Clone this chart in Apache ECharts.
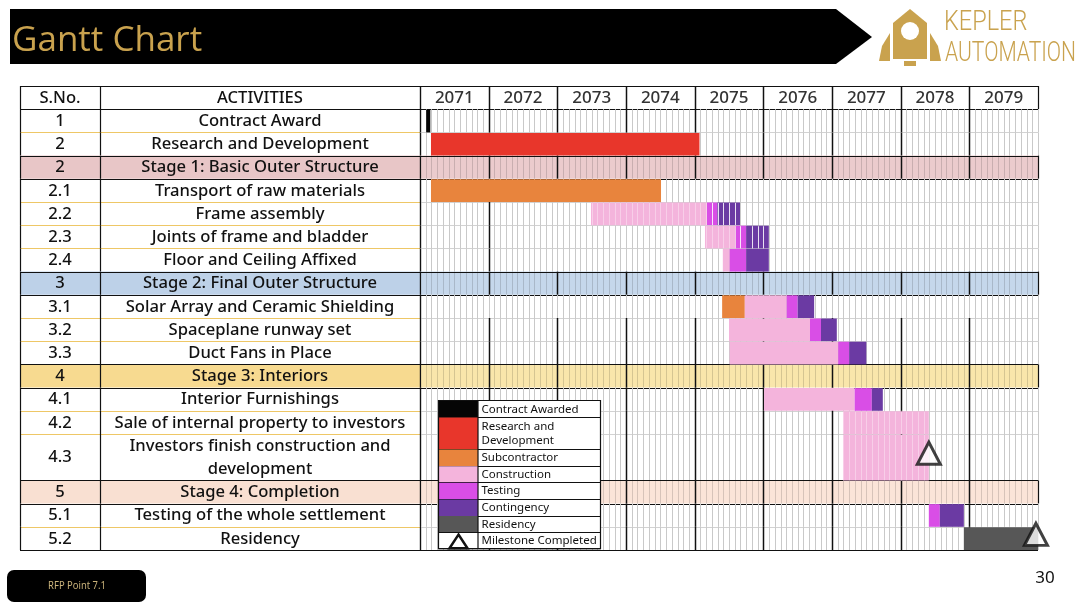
<!DOCTYPE html>
<html><head><meta charset="utf-8"><title>Gantt Chart</title>
<script src="https://cdn.jsdelivr.net/npm/echarts@6.0.0/dist/echarts.min.js"></script>
<style>html,body{margin:0;padding:0;background:#fff;}#chart{width:1080px;height:607px;}</style>
</head><body><div id="chart"></div>
<script>
// ---------------- DATA ----------------
const yearLabels = ['2071','2072','2073','2074','2075','2076','2077','2078','2079'];
const serialNumbers = ['1','2','2','2.1','2.2','2.3','2.4','3','3.1','3.2','3.3','4','4.1','4.2','4.3','5','5.1','5.2'];
const activities = [
  'Contract Award',
  'Research and Development',
  'Stage 1: Basic Outer Structure',
  'Transport of raw materials',
  'Frame assembly',
  'Joints of frame and bladder',
  'Floor and Ceiling Affixed',
  'Stage 2: Final Outer Structure',
  'Solar Array and Ceramic Shielding',
  'Spaceplane runway set',
  'Duct Fans in Place',
  'Stage 3: Interiors',
  'Interior Furnishings',
  'Sale of internal property to investors',
  'Investors finish construction and\ndevelopment',
  'Stage 4: Completion',
  'Testing of the whole settlement',
  'Residency'
];
const phases = ['Contract Awarded','Research and Development','Subcontractor','Construction','Testing','Contingency','Residency'];
const legendLabels = ['Contract Awarded','Research and\nDevelopment','Subcontractor','Construction','Testing','Contingency','Residency','Milestone Completed'];
// [activity row index, phase, start (year), end (year)]
const tasks = [
  [0,'Contract Awarded',2071.09,2071.15],
  [1,'Research and Development',2071.16,2075.07],
  [3,'Subcontractor',2071.16,2074.51],
  [4,'Construction',2073.49,2075.18],
  [4,'Testing',2075.18,2075.33],
  [4,'Contingency',2075.33,2075.66],
  [5,'Construction',2075.15,2075.60],
  [5,'Testing',2075.60,2075.75],
  [5,'Contingency',2075.75,2076.08],
  [6,'Construction',2075.41,2075.51],
  [6,'Testing',2075.51,2075.75],
  [6,'Contingency',2075.75,2076.08],
  [8,'Subcontractor',2075.40,2075.73],
  [8,'Construction',2075.73,2076.34],
  [8,'Testing',2076.34,2076.50],
  [8,'Contingency',2076.50,2076.74],
  [9,'Construction',2075.50,2076.68],
  [9,'Testing',2076.68,2076.84],
  [9,'Contingency',2076.84,2077.07],
  [10,'Construction',2075.51,2077.09],
  [10,'Testing',2077.09,2077.25],
  [10,'Contingency',2077.25,2077.50],
  [12,'Construction',2076.01,2077.33],
  [12,'Testing',2077.33,2077.58],
  [12,'Contingency',2077.58,2077.74],
  [13,'Construction',2077.16,2078.41],
  [14,'Construction',2077.16,2078.41],
  [16,'Testing',2078.41,2078.57],
  [16,'Contingency',2078.57,2078.92],
  [17,'Residency',2078.92,2080.00]
];
// [activity row index, year]
const milestones = [[14,2078.41],[17,2079.97]];
const pageNumber = '30';
const footerTag = 'RFP Point 7.1';
const titleText = 'Gantt Chart';

// ---------------- STYLE / LAYOUT ----------------
const FONT = '"Noto Sans","Open Sans",sans-serif';
const GOLD = '#c9a24e';
const phaseColors = {
  'Contract Awarded':'#050505','Research and Development':'#e8362b','Subcontractor':'#e8843d',
  'Construction':'#f4b4dc','Testing':'#d94ee6','Contingency':'#6b3aa3','Residency':'#575757'
};
const stageFillTable = ['#e8c6c7','#bdd1e8','#f7da90','#f9e0d2'];
const stageFillTimeline = ['#ebcbcd','#c5d7eb','#f9e6ab','#fbe4d8'];
const stripedRows = [4,5,13,14];
const COL_SPLIT = 80, COL_MAX = 400;

const yearMin = +yearLabels[0], yearMax = +yearLabels[yearLabels.length-1] + 1;
const nYears = yearLabels.length;
const spans = activities.map(a => a.split('\n').length);
const rowStart = []; let acc = 1; spans.forEach(s => { rowStart.push(acc); acc += s; });
const totalUnits = acc;
let sc = -1; const stageIdx = activities.map(a => a.startsWith('Stage') ? ++sc : -1);
const rowBounds = k => k < 0 ? [0,1] : [rowStart[k], rowStart[k] + spans[k]];
const crisp = v => Math.round(v) + 0.5;
const isBlackBottom = k => k < 0 || stageIdx[k] >= 0 || k === activities.length-1 || stageIdx[k+1] >= 0;

function yearLinesFor(k){
  const all = []; for (let i=1;i<nYears;i++) all.push(i);
  if (k < 0 || stageIdx[k] >= 0) return all;
  if (k === 3 || k === 8) return [];
  if (k >= 4 && k <= 6) return [1];
  return all;
}
function txt(x, y, text, font, fill, align){
  return {type:'text', x:x, y:y, style:{text:text, font:font, fill:fill,
    align:align||'center', verticalAlign:'middle', textAlign:align||'center', textVerticalAlign:'middle', lineHeight:23}};
}
function hline(x1,x2,y,color,w){ const yy=crisp(y); return {type:'line', shape:{x1:x1,y1:yy,x2:x2,y2:yy}, style:{stroke:color, lineWidth:w||1}}; }
function vline(x,y1,y2,color,w){ const xx=crisp(x); return {type:'line', shape:{x1:xx,y1:y1,x2:xx,y2:y2}, style:{stroke:color, lineWidth:w||1}}; }

function renderTable(params, api){
  const k = api.value(0);
  const [u0,u1] = rowBounds(k);
  const top = api.coord([0,u0])[1], bot = api.coord([0,u1])[1];
  const xL = api.coord([0,0])[0], xM = api.coord([COL_SPLIT,0])[0], xR = api.coord([COL_MAX,0])[0];
  const st = k >= 0 ? stageIdx[k] : -1;
  const ch = [];
  if (st >= 0) ch.push({type:'rect', shape:{x:xL, y:top, width:xR-xL, height:bot-top}, style:{fill:stageFillTable[st]}});
  const f = '500 16.6px ' + FONT;
  ch.push(txt((xL+xM)/2, (top+bot)/2+0.5, k<0 ? 'S.No.' : serialNumbers[k], f, '#111'));
  ch.push(txt((xM+xR)/2, (top+bot)/2+0.5, k<0 ? 'ACTIVITIES' : activities[k], f, '#111'));
  if (k < 0 || st >= 0) ch.push(hline(xL, xR, top, '#111', 1.2));
  ch.push(hline(xL, xR, bot, isBlackBottom(k) ? '#111' : '#eec766', isBlackBottom(k) ? 1.2 : 1));
  [xL, xM, xR].forEach(x => ch.push(vline(x, top, bot, '#111', 1.2)));
  return {type:'group', children:ch};
}

function renderTimeline(params, api){
  const k = api.value(0);
  const [u0,u1] = rowBounds(k);
  const top = api.coord([yearMin,u0])[1], bot = api.coord([yearMin,u1])[1];
  const xAt = v => api.coord([v,0])[0];
  const L = xAt(yearMin), R = xAt(yearMax);
  const st = k >= 0 ? stageIdx[k] : -1;
  const ch = [];
  if (st >= 0) ch.push({type:'rect', shape:{x:L, y:top, width:R-L, height:bot-top}, style:{fill:stageFillTimeline[st]}});
  const yl = yearLinesFor(k);
  if (k >= 0) {
    for (let m = 1; m < nYears*12; m++) {
      if (m % 12 === 0 && yl.indexOf(m/12) >= 0) continue;
      ch.push(vline(xAt(yearMin + m/12), top, bot, st >= 0 ? 'rgba(0,0,0,0.14)' : '#c9c9c9', 1));
    }
  }
  yl.forEach(i => ch.push(vline(xAt(yearMin + i), top, bot, '#111', 1.5)));
  ch.push(vline(L, top, bot, '#111', 1.2));
  if (k < 0 || st >= 0) ch.push(vline(R, top, bot, '#111', 1.2));
  else ch.push(vline(R, top, bot, '#c9c9c9', 1));
  if (k < 0) {
    yearLabels.forEach((y,i) => ch.push(txt((xAt(yearMin+i)+xAt(yearMin+i+1))/2, (top+bot)/2+0.5, y, '500 17px ' + FONT, '#333')));
  }
  if (k < 0 || st >= 0) ch.push(hline(L, R, top, '#111', 1.2));
  ch.push(hline(L, R, bot, isBlackBottom(k) ? '#111' : '#d2d2d2', isBlackBottom(k) ? 1.2 : 1));
  return {type:'group', children:ch};
}

function renderBar(params, api){
  const row = api.value(2);
  const [u0,u1] = rowBounds(row);
  const p0 = api.coord([api.value(0), u0]), p1 = api.coord([api.value(1), u1]);
  return {type:'rect', shape:{x:p0[0], y:p0[1]+0.5, width:p1[0]-p0[0], height:p1[1]-p0[1]-0.5},
    style:{fill:phaseColors[phases[api.value(3)]]}};
}
function renderStripes(params, api){
  const row = api.value(2);
  const [u0,u1] = rowBounds(row);
  const s = api.value(0), e = api.value(1);
  const top = api.coord([s,u0])[1], bot = api.coord([s,u1])[1];
  const ch = [];
  const isPink = phases[api.value(3)] === 'Construction';
  for (let m = Math.ceil((s-yearMin)*12+0.01); yearMin + m/12 < e - 0.01; m++) {
    ch.push(vline(api.coord([yearMin+m/12,0])[0], top+1, bot, isPink ? 'rgba(255,255,255,0.35)' : 'rgba(255,255,255,0.85)', 1));
  }
  return {type:'group', children:ch};
}

const rowsData = [[-1,0]].concat(activities.map((a,i)=>[i,0]));
const barData = tasks.map(t => [t[2], t[3], t[0], phases.indexOf(t[1])]);
const stripeData = barData.filter(d => stripedRows.indexOf(d[2]) >= 0 && d[3] >= 3);

// ---------------- GRAPHIC (title, logo, legend, footer) ----------------
const graphics = [];
graphics.push({type:'polygon', shape:{points:[[10,9],[836,9],[872,37],[836,64],[10,64]]}, style:{fill:'#000'}, z:1});
graphics.push({type:'text', x:12, y:41, style:{text:titleText, font:'35px "Open Sans",sans-serif', fill:GOLD, textVerticalAlign:'middle', verticalAlign:'middle'}, z:2});
// logo
[
  {type:'polygon', shape:{points:[[893,23],[910,9],[927,23],[927,59],[893,59]]}, style:{fill:GOLD}},
  {type:'circle', shape:{cx:910, cy:31, r:9}, style:{fill:'#fff'}},
  {type:'polygon', shape:{points:[[890,33],[882,46],[879,61],[890,61]]}, style:{fill:GOLD}},
  {type:'polygon', shape:{points:[[930,33],[938,46],[941,61],[930,61]]}, style:{fill:GOLD}},
  {type:'rect', shape:{x:904, y:61, width:12, height:5}, style:{fill:GOLD}}
].forEach(el => { el.z = 2; graphics.push(el); });
graphics.push({type:'text', x:944, y:23, scaleX:0.87, style:{text:'KEPLER', font:'300 27px Roboto,sans-serif', fill:GOLD, textVerticalAlign:'middle', verticalAlign:'middle'}, z:2});
graphics.push({type:'text', x:945, y:54, scaleX:0.78, style:{text:'AUTOMATION', font:'300 27px Roboto,sans-serif', fill:GOLD, textVerticalAlign:'middle', verticalAlign:'middle'}, z:2});
// footer
graphics.push({type:'rect', shape:{x:7, y:570, width:139, height:32, r:7}, style:{fill:'#000'}, z:1});
graphics.push({type:'text', x:77, y:586, scaleX:0.82, style:{text:footerTag, font:'11.5px ' + FONT, fill:'#c9b27a', textAlign:'center', align:'center', textVerticalAlign:'middle', verticalAlign:'middle'}, z:2});
graphics.push({type:'text', x:1045, y:578, style:{text:pageNumber, font:'17px ' + FONT, fill:'#111', textAlign:'center', align:'center', textVerticalAlign:'middle', verticalAlign:'middle'}, z:2});
// legend (built from the phase list & colours)
(function(){
  const lx = 438.5, lw = 162, sw = 39;
  let y = 400.5;
  const rowsH = legendLabels.map(l => l.split('\n').length === 2 ? 32 : 16.6);
  const totalH = rowsH.reduce((a,b)=>a+b,0);
  const add = el => { el.z = 100; el.zlevel = 0; graphics.push(el); };
  add({type:'rect', shape:{x:lx, y:y, width:lw, height:totalH}, style:{fill:'#fff', stroke:'#111', lineWidth:1}});
  legendLabels.forEach((lab,i) => {
    const h = rowsH[i];
    const key = lab.replace('\n',' ');
    const col = phaseColors[key];
    if (col) add({type:'rect', shape:{x:lx+0.5, y:y+0.5, width:sw, height:h}, style:{fill:col}});
    else add({type:'polygon', shape:{points:[[lx+20,y+2.5],[lx+11,y+h-0.5],[lx+29,y+h-0.5]]}, style:{fill:'#fff', stroke:'#111', lineWidth:2.5}});
    add({type:'text', x:lx+sw+4, y:y+h/2+0.5, style:{text:lab, font:'11.5px ' + FONT, fill:'#111', textVerticalAlign:'middle', verticalAlign:'middle', lineHeight:14}});
    y += h;
    if (i < legendLabels.length-1) add({type:'line', shape:{x1:lx, y1:Math.round(y)+0.5, x2:lx+lw, y2:Math.round(y)+0.5}, style:{stroke:'#111', lineWidth:1}});
  });
  add({type:'line', shape:{x1:lx+sw+0.5, y1:400.5, x2:lx+sw+0.5, y2:400.5+totalH}, style:{stroke:'#111', lineWidth:1.2}});
  add({type:'rect', shape:{x:lx, y:400.5, width:lw, height:totalH}, style:{fill:'none', stroke:'#111', lineWidth:1.2}});
})();

// ---------------- CHART ----------------
const chart = echarts.init(document.getElementById('chart'));
chart.setOption({
  animation:false,
  backgroundColor:'#fff',
  grid:[
    {left:20, top:86, width:400, height:464},
    {left:420, top:86, width:618, height:464}
  ],
  xAxis:[
    {type:'value', gridIndex:0, min:0, max:COL_MAX, show:false},
    {type:'value', gridIndex:1, min:yearMin, max:yearMax, show:false}
  ],
  yAxis:[
    {type:'value', gridIndex:0, min:0, max:totalUnits, inverse:true, show:false},
    {type:'value', gridIndex:1, min:0, max:totalUnits, inverse:true, show:false}
  ],
  series:[
    {type:'custom', name:'table', xAxisIndex:0, yAxisIndex:0, data:rowsData, renderItem:renderTable, z:1, silent:true},
    {type:'custom', name:'timeline', xAxisIndex:1, yAxisIndex:1, data:rowsData, renderItem:renderTimeline, z:1, silent:true},
    {type:'custom', name:'tasks', xAxisIndex:1, yAxisIndex:1, data:barData, renderItem:renderBar, z:3, silent:true},
    {type:'custom', name:'stripes', xAxisIndex:1, yAxisIndex:1, data:stripeData, renderItem:renderStripes, z:4, silent:true},
    {type:'scatter', name:'Milestone Completed', xAxisIndex:1, yAxisIndex:1, z:5, silent:true,
      data:milestones.map(m => [m[1], rowStart[m[0]] + spans[m[0]]/2]),
      symbol:'triangle', symbolSize:[23,22], symbolOffset:[0,-4],
      itemStyle:{color:'#fff', borderColor:'#111', borderWidth:3}}
  ],
  graphic:graphics
});
</script>
</body></html>
